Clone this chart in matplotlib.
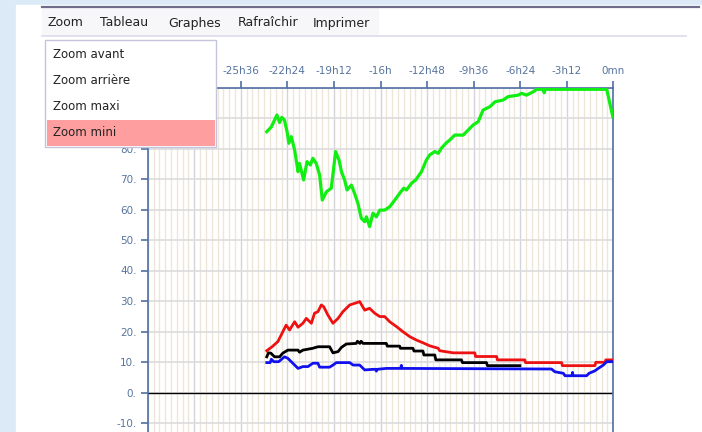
import matplotlib
matplotlib.use('Agg')
import matplotlib.pyplot as plt
from matplotlib.patches import Rectangle

# time in minutes before now
GREEN_T = [-1429, -1410, -1387, -1376, -1367, -1356, -1344, -1338, -1328, -1314, -1300, -1294,
           -1277, -1263, -1249, -1239, -1225, -1211, -1200, -1183, -1163, -1145, -1131, -1121,
           -1108, -1098, -1080, -1067, -1053, -1039, -1025, -1018, -1005, -991, -977, -963,
           -943, -922, -901, -881, -864, -853, -832, -815, -791, -771, -757, -736, -722, -709,
           -688, -674, -654, -619, -578, -557, -537, -509, -488, -454, -434, -392, -378, -358,
           -330, -316, -290, -285, -280, -27, -2]
GREEN_V = [85.5, 87.1, 91.0, 88.5, 90.2, 89.3, 85.0, 81.7, 83.9, 79.5, 72.4, 75.1,
           69.7, 75.7, 74.6, 76.8, 75.1, 71.3, 63.1, 65.8, 67.0, 79.0, 76.2, 72.4,
           69.7, 66.4, 68.0, 65.3, 62.0, 57.1, 56.0, 57.6, 54.4, 58.8, 57.6, 59.8,
           59.8, 60.9, 63.1, 65.3, 67.0, 66.4, 68.6, 69.7, 72.4, 76.2, 77.9, 79.0, 78.4, 80.1,
           81.9, 82.8, 84.4, 84.4, 87.7, 88.8, 92.6, 93.7, 95.3, 95.9, 97.0, 97.5, 98.1, 97.5,
           98.6, 99.4, 99.4, 98.3, 99.4, 99.4, 90.4]

RED_T = [-1429, -1407, -1383, -1363, -1349, -1335, -1314, -1300, -1280, -1266, -1245, -1232,
         -1218, -1204, -1194, -1177, -1156, -1135, -1115, -1087, -1060, -1046, -1025, -1005,
         -984, -963, -943, -922, -894, -867, -839, -812, -785, -757, -722, -716, -660, -571,
         -568, -481, -478, -365, -362, -213, -210, -76, -72, -34, -31, 0]
RED_V = [13.7, 15.0, 16.7, 19.9, 22.1, 20.5, 23.2, 21.4, 22.7, 24.3, 22.7, 26.0,
         26.5, 28.7, 28.1, 25.4, 22.7, 24.3, 26.5, 28.7, 29.4, 29.8, 27.0, 27.6,
         26.0, 24.9, 24.9, 23.2, 21.6, 19.9, 18.3, 17.2, 16.3, 15.3, 14.5, 13.7, 13.0, 13.0,
         11.8, 11.8, 10.7, 10.7, 9.8, 9.8, 8.8, 8.8, 9.9, 9.9, 10.7, 10.7]

BLACK_T = [-1429, -1422, -1412, -1397, -1376, -1363, -1342, -1300, -1294, -1280, -1239, -1218,
           -1170, -1156, -1135, -1121, -1101, -1060, -1055, -1045, -1040, -1032, -936, -932,
           -881, -878, -826, -822, -785, -781, -736, -732, -626, -622, -523, -519, -385]
BLACK_V = [11.7, 13.0, 12.9, 11.7, 11.7, 12.9, 13.9, 13.9, 13.2, 13.9, 14.5, 15.0,
           15.0, 13.0, 13.4, 14.8, 15.9, 16.1, 16.8, 16.1, 16.8, 16.1, 16.1, 15.2,
           15.2, 14.5, 14.5, 13.6, 13.6, 12.3, 12.3, 10.7, 10.7, 9.8, 9.8, 8.8, 8.8]

BLUE_T = [-1429, -1415, -1410, -1400, -1380, -1356, -1342, -1328, -1314, -1300, -1280, -1259,
          -1239, -1218, -1211, -1170, -1156, -1142, -1087, -1073, -1046, -1025, -991, -980,
          -977, -974, -936, -877, -874, -871, -255, -241, -206, -199, -170, -168, -166, -110,
          -100, -76, -62, -41, -27, 0]
BLUE_V = [9.8, 9.8, 10.9, 10.1, 10.1, 11.7, 11.2, 10.1, 9.0, 7.9, 8.5, 8.5,
          9.6, 9.6, 8.3, 8.3, 9.0, 9.8, 9.8, 9.0, 9.0, 7.4, 7.6, 7.6,
          7.0, 7.6, 7.9, 7.9, 8.9, 7.9, 7.7, 6.8, 6.3, 5.5, 5.5, 6.6, 5.5, 5.5,
          6.3, 7.1, 7.9, 9.0, 10.1, 10.1]

MENU_ITEMS = ['Zoom', 'Tableau', 'Graphes', 'Rafraîchir', 'Imprimer']
MENU_X = [48, 100, 168, 238, 313]
DROPDOWN_ITEMS = ['Zoom avant', 'Zoom arrière', 'Zoom maxi', 'Zoom mini']

X_MIN, X_MAX = -1920, 0
X_STEP = 192
Y_MIN, Y_MAX = -20, 100
# tick labels that sit under the dropdown in the screenshot
HIDDEN_X = [-1920, -1728]
HIDDEN_Y = [90, 100]

W, H = 702, 432
AX_LEFT, AX_RIGHT = 147.7, 613.3
AX_TOP, AX_BOTTOM = 87.5, 453.5

TICK_COLOR = '#56749e'
SPINE_COLOR = '#4f6fa3'


def time_label(m):
    if m == 0:
        return '0mn'
    m = -m
    h, mm = divmod(m, 60)
    if mm == 0:
        return f'-{h}h'
    return f'-{h}h{mm:02d}'


def main():
    fig = plt.figure(figsize=(W / 100, H / 100), dpi=100)
    fig.patch.set_facecolor('#dbeaf6')

    # page background: white panel, menu bar
    bg = fig.add_axes([0, 0, 1, 1], zorder=0)
    bg.set_xlim(0, W)
    bg.set_ylim(H, 0)
    bg.axis('off')
    bg.add_patch(Rectangle((16, 5), W - 16, H - 5, color='white'))
    bg.add_patch(Rectangle((42, 8), 336, 27, color='#f7f7fa'))
    bg.plot([42, 699], [7, 7], color='#6e6e8c', lw=1.6)
    bg.plot([42, 686], [35.5, 35.5], color='#dcdcec', lw=1.2)
    for label, x in zip(MENU_ITEMS, MENU_X):
        bg.text(x, 23, label, fontsize=9, va='center', ha='left', color='#222222')

    # chart
    ax = fig.add_axes([AX_LEFT / W, 1 - AX_BOTTOM / H,
                       (AX_RIGHT - AX_LEFT) / W, (AX_BOTTOM - AX_TOP) / H], zorder=1)
    ax.set_facecolor('white')
    ax.set_xlim(X_MIN, X_MAX)
    ax.set_ylim(Y_MIN, Y_MAX)

    for t in range(X_MIN, X_MAX + 1, 24):
        if t % X_STEP == 0:
            ax.axvline(t, color='#d4d4d8', lw=1.0, zorder=1)
        else:
            ax.axvline(t, color='#efe6da', lw=1.0, zorder=1)
    for v in range(Y_MIN, Y_MAX + 1, 10):
        ax.axhline(v, color='#dcdcdc', lw=1.2, zorder=1)
    ax.axhline(0, color='black', lw=1.0, zorder=2)

    ax.plot(GREEN_T, GREEN_V, color='#11ee11', lw=2.3, zorder=3)
    ax.plot(RED_T, RED_V, color='#ee1111', lw=2.0, zorder=3)
    ax.plot(BLACK_T, BLACK_V, color='black', lw=2.0, zorder=3)
    ax.plot(BLUE_T, BLUE_V, color='#1111ee', lw=2.0, zorder=4)

    xticks = list(range(X_MIN, X_MAX + 1, X_STEP))
    ax.set_xticks(xticks)
    ax.set_xticklabels(['' if t in HIDDEN_X else time_label(t) for t in xticks])
    ax.xaxis.tick_top()
    yticks = list(range(-10, Y_MAX + 1, 10))
    ax.set_yticks(yticks)
    ax.set_yticklabels(['' if v in HIDDEN_Y else f'{v}.' for v in yticks])
    ax.tick_params(axis='x', colors=SPINE_COLOR, labelcolor=TICK_COLOR, labelsize=7.5,
                   length=5, width=1.2, pad=3)
    ax.tick_params(axis='y', colors=SPINE_COLOR, labelcolor=TICK_COLOR, labelsize=7.5,
                   length=5, width=1.2, pad=3)
    for side in ['top', 'left', 'right']:
        ax.spines[side].set_color(SPINE_COLOR)
        ax.spines[side].set_linewidth(1.2)
    ax.spines['bottom'].set_visible(False)

    # dropdown menu drawn over the chart
    ov = fig.add_axes([0, 0, 1, 1], zorder=5)
    ov.set_xlim(0, W)
    ov.set_ylim(H, 0)
    ov.axis('off')
    ov.patch.set_alpha(0)
    ov.add_patch(Rectangle((45, 40), 171, 107, facecolor='white', edgecolor='#c4c4dc', lw=1.0))
    ov.add_patch(Rectangle((47, 120), 168, 26, facecolor='#ff9e9e', edgecolor='none'))
    for i, label in enumerate(DROPDOWN_ITEMS):
        ov.text(53, 55 + 26 * i, label, fontsize=8.5, va='center', ha='left', color='#222222')

    fig.savefig('out.png', dpi=100)


if __name__ == '__main__':
    main()
